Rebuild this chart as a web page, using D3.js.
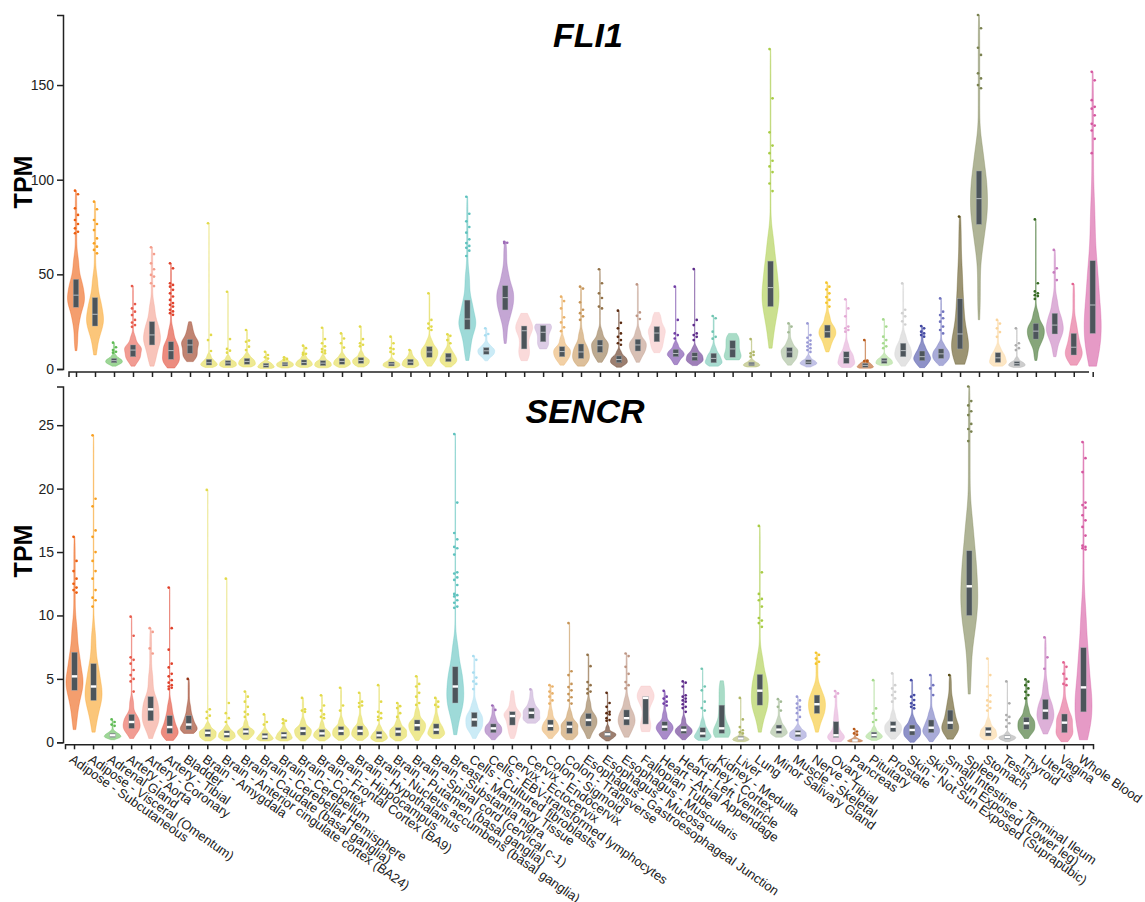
<!DOCTYPE html>
<html>
<head>
<meta charset="utf-8">
<script src="https://cdnjs.cloudflare.com/ajax/libs/d3/7.8.5/d3.min.js"></script>
<style>
  body { margin: 0; background: #fff; }
  svg { font-family: 'Liberation Sans', Arial, sans-serif; }
  .axis path, .axis line { stroke: #222; stroke-width: 1.5px; }
  .axis text { fill: #222; font-size: 14px; }
</style>
</head>
<body>
<svg id="chart" width="1145" height="902"></svg>
<script>
const tissues = [
  'Adipose - Subcutaneous', 'Adipose - Visceral (Omentum)', 'Adrenal Gland', 'Artery - Aorta',
  'Artery - Coronary', 'Artery - Tibial', 'Bladder', 'Brain - Amygdala',
  'Brain - Anterior cingulate cortex (BA24)', 'Brain - Caudate (basal ganglia)',
  'Brain - Cerebellar Hemisphere', 'Brain - Cerebellum', 'Brain - Cortex',
  'Brain - Frontal Cortex (BA9)', 'Brain - Hippocampus', 'Brain - Hypothalamus',
  'Brain - Nucleus accumbens (basal ganglia)', 'Brain - Putamen (basal ganglia)',
  'Brain - Spinal cord (cervical c-1)', 'Brain - Substantia nigra', 'Breast - Mammary Tissue',
  'Cells - Cultured fibroblasts', 'Cells - EBV-transformed lymphocytes', 'Cervix - Ectocervix',
  'Cervix - Endocervix', 'Colon - Sigmoid', 'Colon - Transverse',
  'Esophagus - Gastroesophageal Junction', 'Esophagus - Mucosa', 'Esophagus - Muscularis',
  'Fallopian Tube', 'Heart - Atrial Appendage', 'Heart - Left Ventricle', 'Kidney - Cortex',
  'Kidney - Medulla', 'Liver', 'Lung', 'Minor Salivary Gland', 'Muscle - Skeletal',
  'Nerve - Tibial', 'Ovary', 'Pancreas', 'Pituitary', 'Prostate',
  'Skin - Not Sun Exposed (Suprapubic)', 'Skin - Sun Exposed (Lower leg)',
  'Small Intestine - Terminal Ileum', 'Spleen', 'Stomach', 'Testis', 'Thyroid', 'Uterus',
  'Vagina', 'Whole Blood'
];

const tissueColors = [
  '#ED5D0D', '#F8A021', '#5DBA52', '#E75A4B', '#F49D8C', '#E0402A', '#963214',
  '#E2DA4A', '#E2DA4A', '#E2DA4A', '#E2DA4A', '#E2DA4A', '#E2DA4A', '#E2DA4A',
  '#E2DA4A', '#E2DA4A', '#E2DA4A', '#E2DA4A', '#E2DA4A', '#E2DA4A',
  '#5EC2BE', '#A8DDF0', '#9D6BB7', '#F7C1C1', '#C5AAD4', '#E9B169', '#C69457',
  '#917148', '#5A2A10', '#BE9684', '#F7C4C4', '#703EA5', '#5D2A89', '#70C5B2',
  '#6FC4A2', '#AFB667', '#A8CC45', '#A3BB96', '#9999D5', '#F5C52A', '#E3AAD5',
  '#B85A1A', '#A6DA8E', '#D0D0D0', '#4349A3', '#7073BE', '#5A4D16', '#7A8250',
  '#FAD59D', '#ACACAC', '#356921', '#C67BBE', '#E3618F', '#D557A0'
];

// quantiles per tissue: [min, p10, q1, median, q3, p90, max] (TPM)
const fli1Stats = [
  [9.7, 24, 32.6, 39, 47.4, 60, 94.2], [7.4, 17, 22.7, 28.9, 37.7, 50, 88.4],
  [1.5, 2.6, 3.3, 4.4, 5.6, 7.5, 13.9], [1.5, 4.5, 6.5, 10, 12.7, 18, 43.8],
  [1.5, 7, 12.7, 18, 25, 35, 64.3], [0.5, 3, 5.1, 9.7, 14.4, 22, 55.8],
  [3.9, 6, 8.3, 12.7, 15.7, 20, 25], [0.8, 1.5, 2.1, 3.3, 5.1, 8, 77],
  [0.8, 1.3, 1.9, 3.2, 4.4, 7, 40.8], [1, 1.8, 2.5, 4, 5.6, 8, 20.6],
  [0.3, 0.6, 0.9, 1.9, 3, 4, 9.1], [0.5, 1.1, 1.6, 2.6, 3.5, 4.5, 6.2],
  [0.8, 1.5, 2.1, 3.4, 4.8, 7, 12.3], [0.6, 1.2, 1.8, 3.1, 4.4, 7, 21.8],
  [0.8, 1.8, 2.5, 4, 5.6, 8, 18.8], [1, 2, 3, 4.5, 6, 9, 22.4],
  [0.5, 1.1, 1.6, 2.7, 3.7, 5.5, 17.1], [0.7, 1.5, 2.1, 3.6, 5.1, 7, 10],
  [1.5, 4, 6.2, 9, 11.8, 16, 40], [1, 2.5, 3.9, 5.8, 8.3, 11, 18.3],
  [4.5, 13, 21, 26.4, 36.4, 52, 91], [4.3, 6.6, 7.8, 9.6, 11.3, 13.5, 21.5],
  [13.5, 25, 31.2, 37.7, 44, 52, 67.2], [4.4, 7, 10.6, 20.2, 22.7, 27, 29.4],
  [10.6, 12, 14.4, 19.4, 22.9, 23.5, 23.8], [2, 4.5, 6.5, 9.2, 11.8, 17, 38.2],
  [1.5, 3.5, 5.6, 9, 13.2, 20, 43.5], [3.5, 6.5, 8.8, 12.3, 15.3, 21, 52.7],
  [0.9, 2.4, 3.3, 5, 6.9, 10, 30.8], [3.5, 7, 9.5, 12.7, 15.7, 21, 44.7],
  [8.6, 11, 14.4, 19, 22.4, 27, 29.9], [2.3, 4.5, 6.5, 8.2, 10.4, 14, 43.5],
  [1.8, 3.5, 4.4, 6.5, 8.6, 12, 52.8], [1.5, 2.5, 3.3, 5.6, 8.3, 12, 28],
  [4.8, 5.6, 6.2, 10.6, 15, 17.5, 18.8], [1, 1.4, 1.8, 2.6, 3.5, 5, 15.8],
  [11, 24, 33, 43, 57, 72, 169], [2, 4.5, 6.2, 9, 11.3, 15, 24.1],
  [1, 2, 2.6, 3.6, 4.8, 7, 24.1], [9, 13, 16.5, 19.7, 23.2, 29, 45.6],
  [0.8, 2, 3, 6, 9.1, 14, 36.8], [0.4, 0.7, 0.9, 1.9, 3, 4, 15.3],
  [1.8, 2.5, 3, 4.3, 5.6, 7.5, 26.2], [1.5, 4.5, 6.5, 9.7, 13.6, 19, 45.2],
  [0.7, 2.5, 4.4, 6.5, 9.5, 13, 22.7], [1.8, 4, 5.6, 8, 10.6, 14, 37.3],
  [2.5, 7, 10.6, 18.5, 37.1, 55, 80.5], [26, 62, 76.4, 90, 104.6, 120, 187],
  [1.5, 2.5, 3.5, 5.9, 8.6, 12, 25.9], [0.8, 1.4, 1.8, 2.8, 3.9, 6, 21.5],
  [4.5, 12, 15.8, 20, 24.1, 31, 79], [6.5, 14, 18.5, 23.2, 29.4, 38, 62.9],
  [2, 5, 7.4, 11.5, 18.8, 26, 44.9], [1.5, 10, 18.8, 33.8, 57.2, 90, 157]
];

const fli1Outliers = [
  [94.2, 92.3, 84.9, 81.4, 78.7, 76.6, 74.3, 72.5, 71.7],
  [88.4, 84.4, 78.7, 76.6, 73.4, 69, 66.4, 64.6, 62.9, 61.1],
  [13.9, 11.5, 10, 9.1, 8.6],
  [43.8, 34.3, 32, 30.3, 28.5, 25.9, 24.5, 23.2, 22.3],
  [64.3, 60.7, 55.8, 52.7, 49.7, 48.8, 45.3, 43.8],
  [55.8, 53.2, 45.3, 44.4, 43.5, 41.8, 40, 38.3, 36.5, 34.8, 33.9, 33, 31.3, 30.4, 29.5, 28.6],
  [],
  [77, 18, 15.3, 9.5],
  [40.8, 15.8, 10.6, 9.7, 8.6],
  [20.6, 15, 14.4, 11.8, 10],
  [9.1, 7.4, 6.2, 5.5],
  [6.2, 5.3, 4.9],
  [12.3, 11, 8.5, 8, 7.6],
  [21.8, 15.8, 13.6, 12, 10.5, 9.7, 9, 8.3],
  [18.8, 16.1, 13.6, 11.3],
  [22.4, 15.8, 13.6, 12.8, 12],
  [17.1, 13.6, 11, 10.5, 9, 8],
  [10],
  [40, 25.9, 24, 22.4, 21.5, 20.6],
  [18.3, 17.5, 15.3, 13.6],
  [91, 82, 78, 75, 72, 68.5, 66.5, 65, 64, 62.5, 59.7],
  [21.5, 18.5, 17.8],
  [67.2, 66.7, 66.5],
  [],
  [],
  [38.2, 35.9, 32, 27.3, 24.6, 22, 20],
  [43.5, 42.5, 35.2, 31.3, 29.5, 27.8, 26],
  [52.7, 45.3, 40, 37.5, 33, 32],
  [30.8, 24.4, 21.5, 18.8, 17, 15.3, 13.6, 12.8],
  [44.7, 29.9, 28.1, 26.4],
  [],
  [43.5, 25.9, 18.8, 17.9, 16.1],
  [52.8, 25.9, 23.2, 18.8, 17.9, 17, 15.3],
  [28, 26.8, 19.7, 17, 16],
  [],
  [15.8, 9, 8.3, 7.4, 6.5],
  [169, 143, 125, 118, 114, 110, 107, 104, 98, 94],
  [24.1, 22.4, 19.4],
  [24.1, 17.9, 16.5, 15, 14, 13, 12, 11, 10, 9],
  [45.6, 43.5, 42, 40, 38, 36.5, 35, 33],
  [36.8, 32, 27.8, 22.4, 21.5, 20.6, 19.7],
  [15.3, 4.5, 4.2, 4],
  [26.2, 22.4, 17.1, 15.3, 13.6, 12, 11],
  [45.2, 31.3, 29.5, 27.8, 25.2, 23.5],
  [22.7, 21.5, 19.7, 18.8, 17.9, 17.1],
  [37.3, 30.3, 28.5, 26.8, 25, 22.4, 20.6, 18.8],
  [80.5],
  [187, 180, 169.7, 165.9, 156.2, 153.5, 150, 148.3],
  [25.9, 24, 21.5, 19.5, 17],
  [21.5, 13.6, 12.5, 11, 10],
  [79, 45.3, 41, 40, 39, 38.5, 37],
  [62.9, 53.2, 51, 47],
  [44.9],
  [157, 152.5, 142, 138.5, 137.5, 134, 129.5, 128.6, 126, 121.6, 114]
];

const sencrStats = [
  [1, 2.8, 4.1, 5.2, 7.1, 9.5, 16.2], [0.8, 2.3, 3.3, 4.4, 6.2, 9, 24.2],
  [0.2, 0.35, 0.4, 0.55, 0.7, 0.9, 1.8], [0.3, 0.8, 1.1, 1.6, 2.2, 3.5, 9.9],
  [0.3, 1.2, 1.7, 2.6, 3.6, 5.5, 9], [0.15, 0.5, 0.7, 1.2, 2.1, 3.2, 12.2],
  [0.7, 0.9, 1, 1.4, 2.1, 3, 5], [0.1, 0.3, 0.45, 0.75, 1, 1.5, 19.9],
  [0.1, 0.3, 0.4, 0.65, 0.9, 1.3, 12.9], [0.2, 0.4, 0.6, 0.85, 1.1, 1.7, 4],
  [0.1, 0.2, 0.25, 0.45, 0.7, 1, 2.2], [0.1, 0.25, 0.3, 0.55, 0.8, 1.1, 1.8],
  [0.1, 0.35, 0.57, 0.9, 1.2, 1.8, 3.5], [0.1, 0.3, 0.45, 0.7, 1, 1.6, 3.7],
  [0.15, 0.4, 0.57, 0.9, 1.23, 1.9, 4.3], [0.15, 0.4, 0.57, 0.9, 1.28, 2, 3.9],
  [0.05, 0.2, 0.31, 0.55, 0.85, 1.3, 4.5], [0.1, 0.35, 0.5, 0.85, 1.15, 1.7, 3.1],
  [0.15, 0.6, 0.92, 1.35, 1.76, 2.6, 5.2], [0.3, 0.5, 0.65, 1, 1.45, 2.1, 3.5],
  [0.6, 2.2, 3.1, 4.4, 5.95, 8, 24.3], [0.3, 0.9, 1.23, 1.8, 2.35, 3.2, 6.8],
  [0.2, 0.55, 0.76, 1.1, 1.45, 2, 2.9], [0.3, 0.8, 1.36, 2.07, 2.41, 3.2, 4.06],
  [1.5, 1.7, 1.88, 2.33, 2.7, 3.3, 4.17], [0.3, 0.7, 0.92, 1.3, 1.76, 2.6, 4.5],
  [0.2, 0.5, 0.7, 1.23, 1.63, 2.5, 9.4], [0.3, 0.9, 1.28, 1.76, 2.28, 3.3, 6.9],
  [0.1, 0.3, 0.44, 0.63, 0.8, 1.3, 3.9], [0.4, 0.9, 1.36, 1.9, 2.55, 3.5, 7],
  [0.84, 1.1, 1.44, 3.5, 3.6, 4.2, 4.43], [0.25, 0.6, 0.9, 1.23, 1.62, 2.4, 4.06],
  [0.2, 0.5, 0.7, 0.97, 1.28, 2, 4.8], [0.15, 0.3, 0.4, 0.7, 1.15, 1.8, 5.8],
  [0.39, 0.6, 0.71, 1.1, 2.93, 4.2, 4.85], [0.05, 0.12, 0.18, 0.3, 0.45, 0.8, 3.5],
  [0.8, 2.2, 2.93, 4.07, 5.35, 7, 17.06], [0.4, 0.6, 0.71, 1, 1.36, 1.9, 3.4],
  [0.15, 0.35, 0.44, 0.7, 0.92, 1.3, 3.6], [0.8, 1.7, 2.28, 3, 3.72, 4.5, 7.06],
  [0.05, 0.25, 0.39, 0.55, 1.62, 2.5, 4.04], [0.02, 0.05, 0.08, 0.15, 0.25, 0.4, 1.05],
  [0.15, 0.3, 0.39, 0.57, 0.8, 1.2, 4.9], [0.25, 0.6, 0.84, 1.23, 1.62, 2.4, 5.43],
  [0, 0.35, 0.57, 0.97, 1.36, 2, 4.9], [0.05, 0.5, 0.76, 1.15, 1.76, 2.5, 5.3],
  [0.25, 0.7, 1.02, 1.55, 2.54, 3.5, 5.3], [3.8, 8, 10, 12.3, 15.1, 18, 28.05],
  [0.2, 0.35, 0.5, 0.84, 1.18, 1.8, 6.6], [0.05, 0.18, 0.26, 0.4, 0.52, 0.8, 4.8],
  [0.3, 0.75, 1.02, 1.5, 1.97, 2.8, 4.96], [0.65, 1.3, 1.81, 2.5, 3.38, 4.8, 8.27],
  [0.05, 0.5, 0.76, 1.55, 2.23, 3.2, 6.3], [0.2, 1.2, 2.4, 4.33, 7.46, 11, 23.67]
];

const sencrOutliers = [
  [16.2, 14.3, 13.5, 12.9, 12.5, 12.2, 12, 11.8],
  [24.2, 19.2, 18.6, 16.7, 16.2, 15, 14.3, 13.5, 12.9, 12, 11.4, 11.2, 10.7],
  [1.8, 1.6, 1.4, 1.3],
  [9.9, 8.4, 6.7, 6.5, 6.2, 5.7, 5.3, 5, 4.8, 4],
  [9, 8.7, 7.4, 7],
  [12.2, 9, 7.3, 6.2, 5.9, 5.4, 5.2, 4.9, 4.7, 4.5, 4.4, 4.3, 4.2],
  [5],
  [19.9, 2.6, 2.4, 2.1, 1.9],
  [12.9, 3.1, 2.3, 1.9, 1.6],
  [4, 3.6, 3.2, 2.8, 2.4, 2.2, 2],
  [2.2, 1.6, 1.4],
  [1.8, 1.7, 1.5],
  [3.5, 2.6, 2.5, 2.4],
  [3.7, 2.9, 2.5, 2.2, 2, 1.9],
  [4.3, 2.9, 2.5],
  [3.9, 3.2, 3.1, 2.9, 2.8],
  [4.5, 3.2, 2.4, 2.3, 2, 1.9, 1.75],
  [3.1, 2.85, 2.7, 2.3, 2],
  [5.2, 4.6, 4.4, 3.9, 3.6, 3.1, 2.95],
  [3.5, 3.2, 2.95, 2.8],
  [24.3, 18.9, 16.5, 16, 15.4, 15.3, 14.8, 13.4, 13.3, 13, 12.8, 12.4, 11.7, 11.6, 11.5, 11.2, 11, 10.7, 10.6],
  [6.8, 6.5, 5.5, 5.1, 4.8, 4.6, 4.2],
  [2.9, 2.55],
  [],
  [4.17],
  [4.5, 4.4, 4, 3.85, 3.6, 3.3, 3.05],
  [9.4, 5.6, 5.3, 4.6, 4.35, 4.1, 3.8, 3.55, 3.3, 3.05],
  [6.9, 6, 4.75, 4.5, 4.2, 4, 3.85],
  [3.9, 3.1, 2.8, 2.4, 2.3, 2.2, 1.9, 1.75, 1.7],
  [7, 6.8, 5.95, 5.4, 4.75, 4.5, 4.25],
  [],
  [4.06, 3.6, 3.45, 3.2, 3.05, 2.9],
  [4.8, 4.7, 4.4, 3.7, 3.6, 3.45, 3.3, 3.2, 3, 2.8, 2.7, 2.4],
  [5.8, 4.4, 4.1, 3.2, 2.7, 2.5],
  [],
  [3.5, 1.8, 1.2, 0.95, 0.8, 0.7],
  [17.06, 13.4, 11.7, 11.3, 11.2, 10.7, 9.8, 9.6, 9.4, 9.1],
  [3.4, 3.2, 2.8, 2.5],
  [3.6, 3.3, 3.05, 2.8, 2.7, 2.55, 2.3, 2, 1.75],
  [7.06, 6.9, 6.6, 6.35, 6.2],
  [4.04, 3.85, 3.6],
  [1.05, 0.85, 0.7, 0.6],
  [4.9, 2.67, 2.28, 1.76, 1.6],
  [5.43, 4.5, 4.25, 3.98, 3.72, 3.46, 3.2],
  [4.9, 3.72, 3.6, 3.33, 3.07, 2.94, 2.8, 2.68],
  [5.3, 4.5, 4.25, 3.72],
  [5.3],
  [28.05, 26.9, 26.56, 26.1, 25.8, 25.1, 24.7, 24.5, 23.75],
  [6.6, 5.3, 4.4, 3.7, 3.3, 3.2, 2.9, 2.7, 2.5],
  [4.8, 3.07, 2.15, 2, 1.75, 1.5, 1.23],
  [4.96, 4.78, 4.5, 4.25, 3.98, 3.72, 3.46],
  [8.27, 6.7, 5.8],
  [6.3, 5.95, 5.4, 5, 4.6, 4.5],
  [23.67, 22.4, 21.3, 18.9, 18.7, 18.5, 17.9, 17.5, 16.98, 16.3, 15.5, 15.4, 15.3, 15.2]
];

const fli1Ticks = [0, 50, 100, 150];
const sencrTicks = [0, 5, 10, 15, 20, 25];
const quantileProbs = [0, 0.1, 0.25, 0.5, 0.75, 0.9, 1];

const svg = d3.select('#chart');

const erf = x => {
  const s = Math.sign(x);
  const a = Math.abs(x);
  const t = 1 / (1 + 0.3275911 * a);
  const poly = ((((1.061405429 * t - 1.453152027) * t + 1.421413741) * t - 0.284496736) * t + 0.254829592) * t;
  return s * (1 - poly * Math.exp(-a * a));
};
const normCdf = z => 0.5 * (1 + erf(z / Math.SQRT2));

// piecewise-uniform density between the quantiles, smoothed with a gaussian kernel
const density = (q, v, h) =>
  d3.sum(d3.range(q.length - 1), i => {
    const a = q[i];
    const b = q[i + 1];
    const m = quantileProbs[i + 1] - quantileProbs[i];
    if (b - a < 1e-9) {
      return (m * Math.exp(-0.5 * ((v - a) / h) ** 2)) / (h * Math.sqrt(2 * Math.PI));
    }
    return (m * (normCdf((v - a) / h) - normCdf((v - b) / h))) / (b - a);
  });

// outlier dots sit slightly right of the column centre
const jitter = j => ((j * 3) % 6) - 1;

const drawPanel = panel => {
  const { y, stats, outliers, xPos, medianBar } = panel;
  const g = svg.append('g');

  g.append('g')
    .attr('class', 'axis')
    .attr('transform', 'translate(63,0)')
    .call(d3.axisLeft(y).tickValues(panel.ticks).tickSize(6).tickPadding(3));

  const violins = g
    .selectAll('.violin')
    .data(tissues)
    .enter()
    .append('g')
    .attr('class', 'violin');

  violins.each(function (name, i) {
    const q = stats[i];
    const cx = xPos(i);
    const color = tissueColors[i];
    const h = Math.max(0.25 * (q[4] - q[2]), 1e-3);
    const bottom = y(q[0]);
    const top = y(q[6]);
    const steps = Math.max(2, Math.ceil(bottom - top));
    const profile = d3
      .range(steps + 1)
      .map(k => y.invert(bottom - ((bottom - top) * k) / steps))
      .map(v => ({ v, d: density(q, v, h) }));
    const w = d3
      .scaleLinear()
      .domain([0, d3.max(profile, p => p.d)])
      .range([0, 8.5]);

    const area = d3
      .area()
      .curve(d3.curveBasis)
      .y(p => y(p.v))
      .x0(p => cx - w(p.d))
      .x1(p => cx + w(p.d));

    const vg = d3.select(this);
    vg.append('path')
      .attr('d', area(profile))
      .attr('fill', color)
      .attr('fill-opacity', 0.6)
      .attr('stroke', color)
      .attr('stroke-opacity', 0.5)
      .attr('stroke-width', 0.7);

    vg.append('rect')
      .attr('x', cx - 2.75)
      .attr('width', 5.5)
      .attr('y', y(q[4]))
      .attr('height', y(q[2]) - y(q[4]))
      .attr('fill', '#4d555b')
      .attr('stroke', '#a7adb2')
      .attr('stroke-width', 0.4);

    if (medianBar) {
      vg.append('rect')
        .attr('x', cx - 2.75)
        .attr('width', 5.5)
        .attr('y', y(q[3]) - 1.2)
        .attr('height', 2.4)
        .attr('fill', '#fff');
    } else {
      vg.append('line')
        .attr('x1', cx - 2.75)
        .attr('x2', cx + 2.75)
        .attr('y1', y(q[3]))
        .attr('y2', y(q[3]))
        .attr('stroke', '#b9bec2')
        .attr('stroke-width', 1);
    }

    vg.selectAll('circle')
      .data(outliers[i])
      .enter()
      .append('circle')
      .attr('cx', (v, j) => cx + jitter(j))
      .attr('cy', v => y(v))
      .attr('r', 1.35)
      .attr('fill', color);
  });

  g.append('text')
    .attr('x', panel.titleX)
    .attr('y', panel.titleY)
    .attr('text-anchor', 'middle')
    .style('font-size', '34px')
    .style('font-weight', 'bold')
    .style('font-style', 'italic')
    .text(panel.title);

  g.append('text')
    .attr('transform', `translate(32,${panel.labelY}) rotate(-90)`)
    .attr('text-anchor', 'middle')
    .style('font-size', '25px')
    .style('font-weight', 'bold')
    .text('TPM');

  return g;
};

// FLI1 panel: its columns have a wider gap after the hypothalamus
const yTop = d3.scaleLinear().domain([0, 187]).range([369, 15]);
const xTop = d3.scaleLinear().domain([0, 15, 16, 53]).range([76, 361, 391.5, 1092.7]);

const topPanel = drawPanel({
  y: yTop,
  stats: fli1Stats,
  outliers: fli1Outliers,
  xPos: i => xTop(i),
  ticks: fli1Ticks,
  medianBar: false,
  title: 'FLI1',
  titleX: 588,
  titleY: 47,
  labelY: 182
});

const topAxis = topPanel
  .append('g')
  .attr('class', 'axis')
  .attr('transform', 'translate(0,372)')
  .call(
    d3.axisBottom(xTop)
      .tickValues(d3.range(tissues.length))
      .tickFormat('')
      .tickSize(5)
      .tickSizeOuter(0)
  );
topAxis.select('.domain').attr('d', 'M69,5V0H1089');

// SENCR panel
const yBottom = d3.scaleLinear().domain([0, 28.05]).range([742.3, 386.5]);
const xBottom = d3.scaleBand().domain(tissues).range([65, 1093]);

const bottomPanel = drawPanel({
  y: yBottom,
  stats: sencrStats,
  outliers: sencrOutliers,
  xPos: i => xBottom(tissues[i]) + xBottom.bandwidth() / 2,
  ticks: sencrTicks,
  medianBar: true,
  title: 'SENCR',
  titleX: 585,
  titleY: 423,
  labelY: 551
});

bottomPanel
  .append('g')
  .attr('class', 'axis')
  .attr('transform', 'translate(0,744.3)')
  .call(d3.axisBottom(xBottom).tickSize(5).tickSizeOuter(5))
  .selectAll('text')
  .attr('x', 0)
  .attr('y', 0)
  .attr('dy', 0)
  .attr('text-anchor', 'start')
  .attr('transform', 'translate(-6,17) rotate(35)')
  .style('font-size', '13px');
</script>
</body>
</html>
